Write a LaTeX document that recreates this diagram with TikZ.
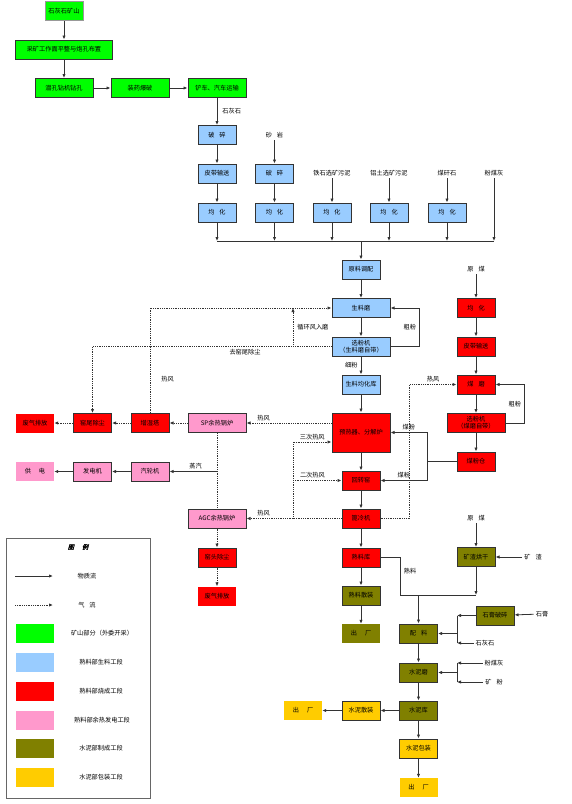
\documentclass[tikz,border=0pt]{standalone}
\usepackage{fontspec}
\newfontfamily\cjk{Noto Sans CJK SC}
\newfontfamily\cjkslant{Noto Sans CJK SC}[FakeSlant=0.25,FakeBold=1.5]
\usetikzlibrary{arrows.meta,positioning}
\definecolor{minegreen}{RGB}{0,255,0}
\definecolor{rawblue}{RGB}{153,204,255}
\definecolor{burnred}{RGB}{255,0,0}
\definecolor{powerpink}{RGB}{255,153,204}
\definecolor{cemolive}{RGB}{128,128,0}
\definecolor{packyellow}{RGB}{255,204,0}

\begin{document}
\begin{tikzpicture}[
  x=1pt, y=-1pt,
  every node/.style = {font=\cjk\fontsize{6.2}{7}\selectfont, inner sep=0pt},
  stage/.style      = {draw=black!80, line width=1pt, fill=#1, minimum width=38pt, minimum height=19pt, align=center},
  widestage/.style  = {stage=#1, minimum width=58pt},
  flatstage/.style  = {fill=#1, minimum width=38pt, minimum height=19pt},
  tag/.style        = {inner sep=2pt},
  flow/.style       = {-{Latex[length=4pt,width=3.4pt]}, line width=0.8pt, draw=black!80},
  gas/.style        = {flow, densely dotted},
  pipe/.style       = {line width=0.8pt, draw=black!80},
]
  \useasboundingbox (0,0) rectangle (572,804);

  \node[stage=minegreen, draw=black!40, line width=0.5pt] (mine) at (64,11) {石灰石矿山};
  \node[stage=minegreen, minimum width=97pt] (level) at (64,49.5) {采矿工作面平整与炮孔布置};
  \node[widestage=minegreen] (drill) at (64,88) {潜孔钻机钻孔};
  \node[widestage=minegreen] (blast) at (140,88) {装药爆破};
  \node[widestage=minegreen] (haul) at (217,88) {铲车、汽车运输};

  \node[stage=rawblue] (crushA) at (217,135) {破\hspace{5pt}碎};
  \node[stage=rawblue] (beltA) at (217,173.5) {皮带输送};
  \node[tag] (sand) at (274.5,135) {砂\hspace{5pt}岩};
  \node[stage=rawblue] (crushB) at (274.5,173.5) {破\hspace{5pt}碎};
  \node[tag] (iron) at (332,173) {铁石选矿污泥};
  \node[tag] (bauxite) at (389,173) {铝土选矿污泥};
  \node[tag] (gangue) at (447,173) {煤矸石};
  \node[tag] (flyash) at (494,173) {粉煤灰};
  \node[stage=rawblue] (homA) at (217,212.5) {均\hspace{5pt}化};
  \node[stage=rawblue] (homB) at (274.5,212.5) {均\hspace{5pt}化};
  \node[stage=rawblue] (homC) at (332,212.5) {均\hspace{5pt}化};
  \node[stage=rawblue] (homD) at (389,212.5) {均\hspace{5pt}化};
  \node[stage=rawblue] (homE) at (447,212.5) {均\hspace{5pt}化};
  \coordinate (bus) at (361,241);

  \node[stage=rawblue] (mixraw) at (361,269.5) {原料调配};
  \node[widestage=rawblue] (rmill) at (361,308) {生料磨};
  \node[widestage=rawblue] (rsep) at (361,346.5) {选粉机\\（生料磨自带）};
  \node[stage=rawblue] (silo) at (361,384.5) {生料均化库};
  \node[widestage=burnred, minimum height=39pt] (pre) at (361,432.5) {预热器、分解炉};
  \node[stage=burnred] (kiln) at (361,480.5) {回转窑};
  \node[stage=burnred] (cool) at (361,518.5) {篦冷机};
  \node[stage=burnred] (clk) at (361,557.5) {熟料库};
  \node[stage=cemolive] (clkbulk) at (361,595.5) {熟料散装};
  \node[flatstage=cemolive] (outA) at (361,633.5) {出\hspace{8pt}厂};

  \node[tag] (coal) at (476,269) {原\hspace{5pt}煤};
  \node[stage=burnred] (chom) at (476,308) {均\hspace{5pt}化};
  \node[stage=burnred] (cbelt) at (476,346.5) {皮带输送};
  \node[stage=burnred] (cmill) at (476,384.5) {煤\hspace{5pt}磨};
  \node[widestage=burnred] (csep) at (476,423) {选粉机\\（煤磨自带）};
  \node[stage=burnred] (cbin) at (476,461.5) {煤粉仓};

  \node[flatstage=burnred] (ventA) at (35,423) {废气排放};
  \node[stage=burnred] (tdust) at (92.5,423) {窑尾除尘};
  \node[stage=burnred] (hum) at (150,423) {增湿塔};
  \node[widestage=powerpink] (sp) at (217,423) {SP余热锅炉};
  \node[flatstage=powerpink] (grid) at (35,471.5) {供\hspace{8pt}电};
  \node[stage=powerpink] (gen) at (92.5,471.5) {发电机};
  \node[stage=powerpink] (turb) at (150,471.5) {汽轮机};
  \node[widestage=powerpink] (agc) at (217,518.5) {AGC余热锅炉};
  \node[stage=burnred] (hdust) at (217,557.5) {窑头除尘};
  \node[flatstage=burnred] (ventB) at (217,596) {废气排放};

  \node[tag] (coalB) at (476,518) {原\hspace{5pt}煤};
  \node[stage=cemolive] (dryer) at (476,557) {矿渣烘干};
  \node[tag] (slag) at (533,557) {矿\hspace{5pt}渣};
  \node[stage=cemolive] (gcrush) at (495,615.5) {石膏破碎};
  \node[tag] (gyp) at (542,614) {石膏};
  \node[tag] (lime) at (485,643) {石灰石};
  \node[stage=cemolive] (mix) at (418.5,633.5) {配\hspace{5pt}料};
  \node[tag] (ashB) at (494,663) {粉煤灰};
  \node[tag] (slagp) at (494,682) {矿\hspace{5pt}粉};
  \node[stage=cemolive] (cmill2) at (418.5,672.5) {水泥磨};
  \node[stage=cemolive] (csilo) at (418.5,710.5) {水泥库};
  \node[stage=packyellow] (cbulk) at (361,710.5) {水泥散装};
  \node[flatstage=packyellow] (outB) at (303,710.5) {出\hspace{8pt}厂};
  \node[stage=packyellow] (pack) at (418.5,748.5) {水泥包装};
  \node[flatstage=packyellow] (outC) at (418.5,787.5) {出\hspace{8pt}厂};

  \draw[flow] (mine) -- (level);
  \draw[flow] (level) -- (drill);
  \draw[flow] (drill) -- (blast);
  \draw[flow] (blast) -- (haul);
  \draw[flow] (haul) -- node[tag, right=3pt] {石灰石} (crushA);
  \draw[flow] (crushA) -- (beltA);
  \draw[flow] (beltA) -- (homA);
  \draw[flow] (sand) -- (crushB);
  \draw[flow] (crushB) -- (homB);
  \draw[flow] (iron) -- (homC);
  \draw[flow] (bauxite) -- (homD);
  \draw[flow] (gangue) -- (homE);
  \foreach \h in {homA,homB,homC,homD,homE}
    \draw[flow] (\h) -- (\h |- bus);
  \draw[flow] (flyash) -- (flyash |- bus);
  \draw[pipe] (homA |- bus) -- (flyash |- bus);
  \draw[flow] (bus) -- (mixraw);

  \draw[flow] (mixraw) -- (rmill);
  \draw[flow] (rmill) -- (rsep);
  \draw[flow] (rsep) -- node[tag, left=1pt] {细粉} (silo);
  \draw[flow] (silo) -- (pre);
  \draw[flow] (pre) -- (kiln);
  \draw[flow] (kiln) -- (cool);
  \draw[flow] (cool) -- (clk);
  \draw[flow] (clk) -- (clkbulk);
  \draw[flow] (clkbulk) -- (outA);
  \draw[flow] (rsep.east) -- ++(29,0) |- node[tag, pos=0.25, left=1pt] {粗粉} (rmill.east);

  \coordinate (recyc) at (293,346.5);
  \coordinate (tert) at (293,518.5);
  \draw[gas] (hum.north) |- node[tag, pos=0.16, right=9pt] {热风} (rmill.west);
  \draw[gas] (rsep.west) -| (tdust.north);
  \node[tag] (tailtxt) at (245,352) {去窑尾除尘};
  \draw[gas] (recyc) -- node[tag, right=2pt] {循环风入磨} (recyc |- rmill);
  \draw[gas] (pre.west |- sp) -- node[tag, pos=0.8, above] {热风} (sp.east);
  \draw[gas] (sp) -- (hum);
  \draw[gas] (hum) -- (tdust);
  \draw[gas] (tdust) -- (ventA);
  \draw[densely dotted, line width=0.8pt, draw=black!80] (sp) -- (agc);
  \draw[flow] (sp |- turb) -- node[tag, pos=0.45, above] {蒸汽} (turb);
  \draw[flow] (turb) -- (gen);
  \draw[flow] (gen) -- (grid);
  \draw[gas] (cool) -- node[tag, pos=0.82, above] {热风} (agc);
  \draw[gas] (agc) -- (hdust);
  \draw[gas] (hdust) -- (ventB);
  \draw[gas] (tert) |- node[tag, pos=0.75, above] {三次热风} ([yshift=-9.5pt]pre.west);
  \draw[gas] (tert |- kiln) -- node[tag, pos=0.4, above] {二次热风} (kiln);
  \draw[gas] (cool.east) -- ++(29,0) |- node[tag, pos=0.75, above] {热风} (cmill.west);

  \draw[flow] (coal) -- (chom);
  \draw[flow] (chom) -- (cbelt);
  \draw[flow] (cbelt) -- (cmill);
  \draw[flow] (cmill) -- (csep);
  \draw[flow] (csep) -- (cbin);
  \draw[flow] (csep.east) -- ++(19,0) |- node[tag, pos=0.25, left=1pt] {粗粉} (cmill.east);
  \coordinate (cfeed) at (427,461.5);
  \draw[pipe] (cbin) -- (cfeed);
  \draw[flow] (cfeed) |- node[tag, pos=0.75, above] {煤粉} (pre.east);
  \draw[flow] (cfeed) |- node[tag, pos=0.75, above] {煤粉} (kiln.east);

  \coordinate (cjoin) at (418.5,595);
  \coordinate (mixin) at (457,633.5);
  \coordinate (millin) at (457,672.5);
  \draw[flow] (coalB) -- (dryer);
  \draw[flow] (slag) -- (dryer);
  \draw[pipe] (clk.east) -- ++(20,0) node[tag, below right=8pt and 1pt] {熟料} |- (dryer |- cjoin);
  \draw[flow] (dryer) -- (dryer |- cjoin);
  \draw[flow] (cjoin) -- (mix);
  \draw[flow] (gyp) -- (gcrush);
  \draw[flow] (gcrush) -- (mixin |- gcrush);
  \draw[flow] (lime) -- (mixin |- lime);
  \draw[pipe] (mixin |- gcrush) -- (mixin |- lime);
  \draw[flow] (mixin) -- (mix);
  \draw[flow] (mix) -- (cmill2);
  \draw[flow] (ashB) -- (millin |- ashB);
  \draw[flow] (slagp) -- (millin |- slagp);
  \draw[pipe] (millin |- ashB) -- (millin |- slagp);
  \draw[flow] (millin) -- (cmill2);
  \draw[flow] (cmill2) -- (csilo);
  \draw[flow] (csilo) -- (cbulk);
  \draw[flow] (cbulk) -- (outB);
  \draw[flow] (csilo) -- (pack);
  \draw[flow] (pack) -- (outC);

  \node[draw=black!60, line width=1pt, minimum width=144pt, minimum height=260pt] (legend) at (78,668) {};
  \node[font=\cjkslant\fontsize{6.2}{7}\selectfont] (legtitle) at (78,547) {图\hspace{8pt}例};
  \coordinate (lgsolidA) at (15,576);
  \coordinate (lgsolidB) at (53,576);
  \coordinate (lgdotA) at (15,605);
  \coordinate (lgdotB) at (53,605);
  \draw[flow] (lgsolidA) -- (lgsolidB);
  \draw[gas] (lgdotA) -- (lgdotB);
  \node (lgsolid) at (87,576) {物质流};
  \node (lgdot) at (87,605) {气\hspace{5pt}流};
  \node[flatstage=minegreen] (swmine) at (35,633.5) {};
  \node[flatstage=rawblue] (swraw) at (35,662.5) {};
  \node[flatstage=burnred] (swburn) at (35,691.5) {};
  \node[flatstage=powerpink] (swpower) at (35,720.5) {};
  \node[flatstage=cemolive] (swcem) at (35,748.5) {};
  \node[flatstage=packyellow] (swpack) at (35,777.5) {};
  \node (lgmine) at (102,633.5) {矿山部分（外委开采）};
  \node (lgraw) at (101,662.5) {熟料部生料工段};
  \node (lgburn) at (101,691.5) {熟料部烧成工段};
  \node (lgpower) at (102,720.5) {熟料部余热发电工段};
  \node (lgcem) at (101,748.5) {水泥部制成工段};
  \node (lgpack) at (101,777.5) {水泥部包装工段};
\end{tikzpicture}
\end{document}
